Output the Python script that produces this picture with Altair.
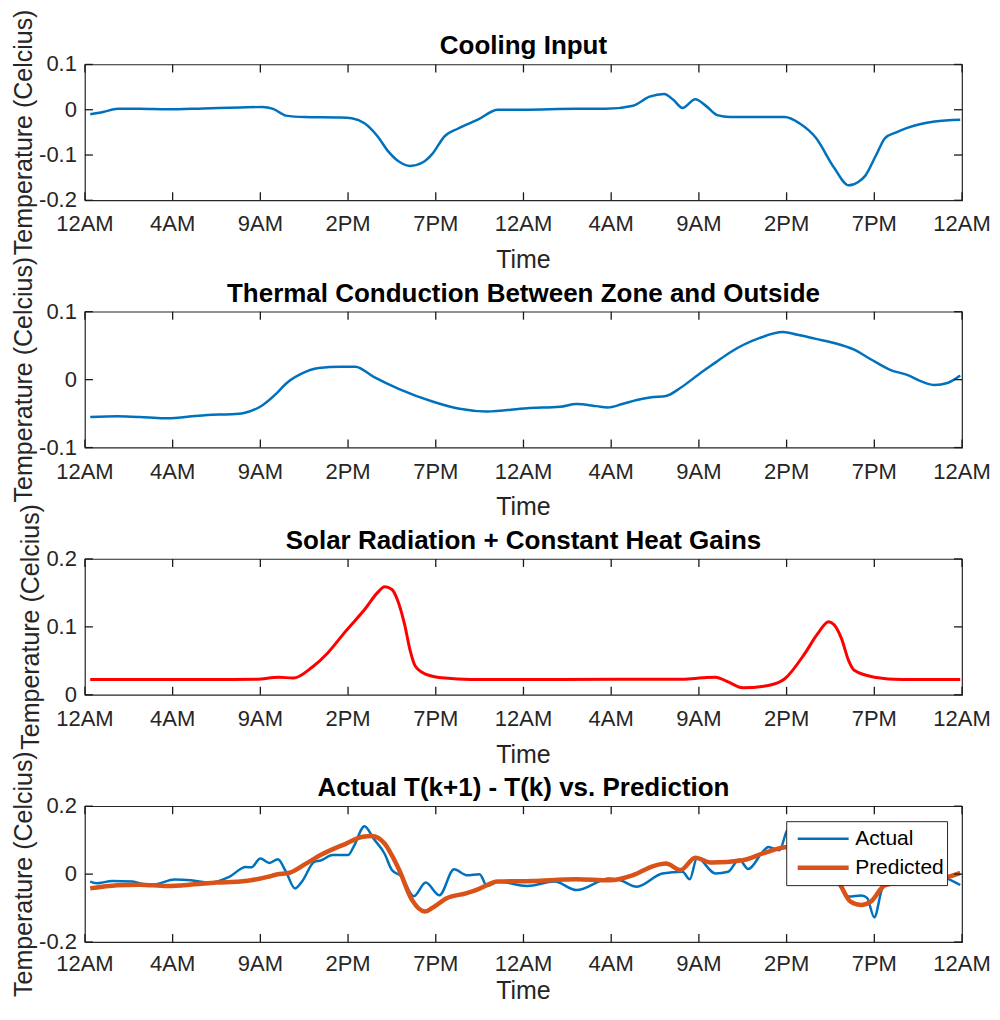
import altair as alt
import pandas as pd

FONT = "Liberation Sans"
AXIS_COLOR = "#262626"

# x axis: hours since first midnight, ticks every 4.8 h
TICK_HOURS = [0, 4.8, 9.6, 14.4, 19.2, 24, 28.8, 33.6, 38.4, 43.2, 48]
TICK_LABELS = ["12AM", "4AM", "9AM", "2PM", "7PM", "12AM", "4AM", "9AM", "2PM", "7PM", "12AM"]

TITLES = [
    "Cooling Input",
    "Thermal Conduction Between Zone and Outside",
    "Solar Radiation + Constant Heat Gains",
    "Actual T(k+1) - T(k) vs. Prediction",
]
Y_TITLE = "Temperature (Celcius)"
X_TITLE = "Time"

# y ticks and their labels, per panel
Y1_TICKS, Y1_LABELS = [-0.2, -0.1, 0, 0.1], ["-0.2", "-0.1", "0", "0.1"]
Y2_TICKS, Y2_LABELS = [-0.1, 0, 0.1], ["-0.1", "0", "0.1"]
Y3_TICKS, Y3_LABELS = [0, 0.1, 0.2], ["0", "0.1", "0.2"]
Y4_TICKS, Y4_LABELS = [-0.2, 0, 0.2], ["-0.2", "0", "0.2"]

# Panel 1: cooling input
cool_t = [0.29, 1.0, 1.8, 3.0, 4.5, 6.5, 8.5, 9.7, 10.3, 11.0, 12.0, 14.0, 14.6, 15.3, 16.0, 16.6,
          17.2, 17.8, 18.5, 19.0, 19.7, 20.4, 21.5, 22.6, 24.0, 26.9, 28.5, 30.0, 30.9, 31.7, 32.2,
          32.7, 33.4, 34.0, 34.6, 35.3, 38.3, 39.1, 40.0, 41.0, 41.8, 42.3, 42.7, 43.3, 43.8, 44.4,
          45.0, 46.5, 47.9]
cool_v = [-0.010, -0.005, 0.002, 0.002, 0.001, 0.003, 0.005, 0.006, 0.002, -0.013, -0.016, -0.017,
          -0.019, -0.030, -0.058, -0.092, -0.115, -0.124, -0.116, -0.098, -0.058, -0.042, -0.022,
          0.000, 0.000, 0.002, 0.002, 0.009, 0.029, 0.035, 0.022, 0.004, 0.023, 0.008, -0.012,
          -0.016, -0.016, -0.030, -0.062, -0.128, -0.167, -0.160, -0.146, -0.100, -0.062, -0.050,
          -0.040, -0.026, -0.022]

# Panel 2: thermal conduction
cond_t = [0.29, 1.8, 3.0, 4.3, 5.5, 6.7, 8.0, 8.7, 9.7, 10.5, 11.0, 11.8, 12.8, 14.0, 14.8, 15.8,
          17.2, 19.1, 20.5, 22.0, 24.2, 26.0, 26.9, 28.0, 28.6, 29.4, 30.2, 31.0, 31.8, 32.6, 33.6,
          34.5, 35.3, 36.9, 38.2, 39.0, 40.0, 41.0, 42.1, 43.0, 44.1, 45.0, 45.8, 46.5, 47.2, 47.9]
cond_v = [-0.055, -0.054, -0.055, -0.057, -0.055, -0.052, -0.051, -0.049, -0.038, -0.020, -0.006,
          0.008, 0.017, 0.019, 0.019, 0.004, -0.014, -0.033, -0.043, -0.047, -0.042, -0.040, -0.036,
          -0.039, -0.041, -0.036, -0.030, -0.026, -0.024, -0.012, 0.008, 0.025, 0.040, 0.061, 0.070,
          0.066, 0.060, 0.054, 0.044, 0.030, 0.014, 0.007, -0.003, -0.008, -0.005, 0.006]

# Panel 3: solar radiation + constant gains
solar_t = [0.29, 4.0, 8.0, 9.4, 10.6, 11.4, 12.45, 13.3, 14.25, 15.35, 16.0, 16.4, 16.8, 17.1, 17.5,
           17.8, 18.06, 18.6, 19.7, 21.1, 26.0, 32.7, 33.8, 34.5, 35.2, 36.0, 37.4, 38.3, 39.4, 40.1,
           40.7, 41.0, 41.4, 41.8, 42.1, 43.2, 44.7, 47.9]
solar_v = [0.0227, 0.0227, 0.0227, 0.023, 0.026, 0.0246, 0.041, 0.062, 0.093, 0.127, 0.150, 0.159,
           0.155, 0.140, 0.103, 0.065, 0.043, 0.031, 0.0246, 0.0227, 0.0227, 0.023, 0.025, 0.026,
           0.019, 0.0104, 0.0138, 0.0237, 0.061, 0.090, 0.1076, 0.103, 0.083, 0.050, 0.036, 0.026,
           0.0227, 0.0227]

# Panel 4: actual vs predicted
act_t = [0.29, 0.65, 1.5, 2.6, 3.3, 3.8, 4.9, 5.8, 6.9, 7.9, 8.8, 9.1, 9.6, 10.1, 10.56, 11.0, 11.5,
         11.9, 12.55, 12.9, 13.55, 14.4, 14.7, 15.3, 15.8, 16.4, 16.8, 17.3, 18.0, 18.65, 19.4, 20.2,
         20.9, 21.6, 22.0, 22.6, 24.2, 25.7, 26.9, 28.7, 29.3, 30.2, 31.6, 32.7, 33.1, 33.5, 34.5,
         35.2, 35.8, 36.3, 37.1, 37.4, 38.0, 38.5, 39.3, 40.2, 41.2, 41.8, 42.5, 42.8, 43.2, 43.6,
         44.0, 45.5, 47.2, 47.9]
act_v = [-0.022, -0.027, -0.020, -0.022, -0.030, -0.030, -0.016, -0.018, -0.025, -0.008, 0.021,
         0.020, 0.046, 0.033, 0.044, 0.007, -0.042, -0.020, 0.036, 0.040, 0.056, 0.056, 0.080, 0.141,
         0.104, 0.060, 0.012, -0.006, -0.065, -0.025, -0.062, 0.014, -0.003, 0.000, -0.035, -0.022,
         -0.035, -0.022, -0.047, -0.013, -0.018, -0.037, 0.002, 0.007, -0.015, 0.048, 0.002, 0.007,
         0.043, 0.015, 0.066, 0.080, 0.070, 0.134, 0.070, 0.010, -0.027, -0.066, -0.063, -0.070,
         -0.127, -0.047, -0.005, 0.005, -0.013, -0.032]
pred_t = [0.29, 1.77, 3.0, 4.5, 6.0, 7.2, 8.5, 10.0, 10.5, 11.2, 12.1, 13.0, 14.3, 15.2, 15.7, 16.4,
          16.8, 17.2, 17.9, 18.6, 19.0, 19.8, 20.9, 21.5, 22.6, 24.5, 26.9, 28.7, 30.0, 31.1, 31.8,
          32.6, 33.4, 34.3, 36.0, 37.1, 38.5, 39.3, 40.2, 41.2, 41.9, 42.5, 43.0, 43.8, 45.5, 47.2,
          47.9]
pred_v = [-0.042, -0.033, -0.031, -0.035, -0.030, -0.025, -0.022, -0.008, -0.001, 0.004, 0.031,
          0.059, 0.090, 0.110, 0.112, 0.090, 0.055, 0.012, -0.076, -0.110, -0.100, -0.071, -0.056,
          -0.045, -0.022, -0.020, -0.015, -0.018, -0.003, 0.0235, 0.031, 0.012, 0.048, 0.034, 0.041,
          0.061, 0.080, 0.075, 0.035, -0.018, -0.081, -0.091, -0.081, -0.032, -0.018, -0.008, 0.004]

SERIES = ["Actual", "Predicted"]
SERIES_COLORS = ["#0072BD", "#D95319"]
SERIES_WIDTHS = [2.5, 4.5]

W, H = 878, 136
TICK_LEN = 8
TICK_FS, LABEL_FS, TITLE_FS = 22, 25, 26

# approximate advance widths (em) of the label glyphs, for placing the y title
_CW = {"-": 0.333, ".": 0.278}


def label_width(labels):
    return max(sum(_CW.get(c, 0.556) for c in s) for s in labels) * TICK_FS


X_SCALE = alt.Scale(domain=[TICK_HOURS[0], TICK_HOURS[-1]], nice=False, zero=False)


def y_scale(domain):
    return alt.Scale(domain=domain, nice=False, zero=False)


def xs():
    return alt.X("t:Q", scale=X_SCALE, axis=None)


def ys(domain):
    return alt.Y("v:Q", scale=y_scale(domain), axis=None)


def tick_marks(domain, ticks):
    """Inward MATLAB-style ticks on all four sides, placed through the scales."""
    xr = alt.Chart(pd.DataFrame({"t": TICK_HOURS}))
    yr = alt.Chart(pd.DataFrame({"v": ticks}))
    rule = dict(color="#1a1a1a", strokeWidth=1.3, opacity=1)
    return [
        xr.mark_rule(**rule).encode(x=xs(), y=alt.value(0), y2=alt.value(TICK_LEN)),
        xr.mark_rule(**rule).encode(x=xs(), y=alt.value(H - TICK_LEN), y2=alt.value(H)),
        yr.mark_rule(**rule).encode(y=ys(domain), x=alt.value(0), x2=alt.value(TICK_LEN)),
        yr.mark_rule(**rule).encode(y=ys(domain), x=alt.value(W - TICK_LEN), x2=alt.value(W)),
    ]


def text_layers(ticks, labels, domain, title, label_pad=14, title_pad=12):
    """Tick labels, axis titles and panel title, placed via the scales."""
    xt = alt.Chart(pd.DataFrame({"t": TICK_HOURS, "label": TICK_LABELS}))
    yt = alt.Chart(pd.DataFrame({"v": ticks, "label": labels}))
    one = lambda s: alt.Chart(pd.DataFrame({"label": [s]}))
    txt = dict(font=FONT, color=AXIS_COLOR)
    ytitle_x = -(8 + label_width(labels) + 2)
    return [
        xt.mark_text(fontSize=TICK_FS, align="center", baseline="top", **txt).encode(
            x=xs(), y=alt.value(H + label_pad), text="label:N"),
        yt.mark_text(fontSize=TICK_FS, align="right", baseline="middle", **txt).encode(
            y=ys(domain), x=alt.value(-8), text="label:N"),
        one(X_TITLE).mark_text(fontSize=LABEL_FS, align="center", baseline="top", **txt).encode(
            x=alt.value(W / 2), y=alt.value(H + label_pad + TICK_FS + title_pad), text="label:N"),
        one(Y_TITLE).mark_text(fontSize=LABEL_FS, align="center", baseline="bottom", angle=270,
                               **txt).encode(
            x=alt.value(ytitle_x), y=alt.value(H / 2), text="label:N"),
        one(title).mark_text(font=FONT, fontSize=TITLE_FS, fontWeight="bold", align="center",
                             baseline="alphabetic", color="black").encode(
            x=alt.value(W / 2), y=alt.value(-10), text="label:N"),
    ]


def single_panel(ts, vs, color, width, domain, ticks, labels, title):
    df = pd.DataFrame({"t": ts, "v": vs})
    line = alt.Chart(df).mark_line(color=color, strokeWidth=width, interpolate="monotone").encode(
        x=xs(), y=ys(domain))
    return alt.layer(line, *tick_marks(domain, ticks), *text_layers(ticks, labels, domain, title)).properties(
        width=W, height=H)


p1 = single_panel(cool_t, cool_v, "#0072BD", 2.5, [-0.2, 0.1], Y1_TICKS, Y1_LABELS, TITLES[0])
p2 = single_panel(cond_t, cond_v, "#0072BD", 2.5, [-0.1, 0.1], Y2_TICKS, Y2_LABELS, TITLES[1])
p3 = single_panel(solar_t, solar_v, "#FF0000", 3, [0, 0.2], Y3_TICKS, Y3_LABELS, TITLES[2])

df4 = pd.concat([
    pd.DataFrame({"t": act_t, "v": act_v, "s": SERIES[0]}),
    pd.DataFrame({"t": pred_t, "v": pred_v, "s": SERIES[1]}),
])

legend = alt.Legend(
    title=None, orient="top-right", offset=15, symbolType="stroke", symbolSize=2601,
    clipHeight=29, padding=3, rowPadding=0, symbolOffset=6, labelOffset=4,
    labelFont=FONT, labelFontSize=21, labelColor="black", fillColor="white",
    strokeColor=AXIS_COLOR, cornerRadius=0,
)

D4 = [-0.2, 0.2]
line4 = alt.Chart(df4).mark_line(interpolate="monotone").encode(
    x=xs(), y=ys(D4),
    color=alt.Color("s:N", scale=alt.Scale(domain=SERIES, range=SERIES_COLORS), legend=legend),
    strokeWidth=alt.StrokeWidth("s:N", scale=alt.Scale(domain=SERIES, range=SERIES_WIDTHS), legend=legend),
)
p4 = alt.layer(line4, *tick_marks(D4, Y4_TICKS),
               *text_layers(Y4_TICKS, Y4_LABELS, D4, TITLES[3], label_pad=12, title_pad=3)).properties(
    width=W, height=H)

chart = alt.vconcat(p1, p2, p3, p4, spacing=111.5, bounds="flush").resolve_scale(
    color="independent", strokeWidth="independent"
).resolve_legend(
    color="independent", strokeWidth="independent"
).properties(
    padding={"left": 3, "top": 0, "right": 0, "bottom": 0}
).configure_view(
    stroke=AXIS_COLOR, strokeWidth=1.2
)

chart.save("out.html", embed_options={"renderer": "svg", "actions": False})
